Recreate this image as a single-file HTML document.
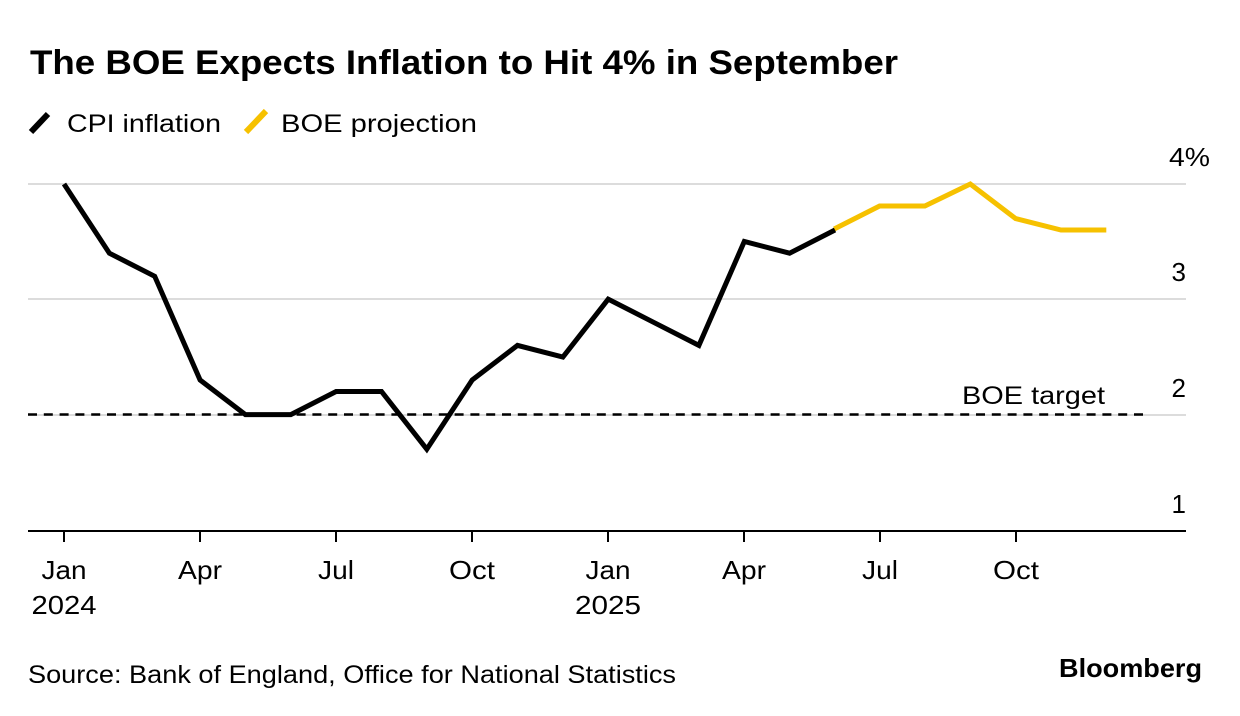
<!DOCTYPE html>
<html>
<head>
<meta charset="utf-8">
<style>
  html, body { margin:0; padding:0; background:#ffffff; }
  body { width:1240px; height:716px; overflow:hidden; }
  svg { display:block; }
  text { font-family: "Liberation Sans", Arial, sans-serif; fill:#000; }
</style>
</head>
<body>
<svg width="1240" height="716" viewBox="0 0 1240 716" xmlns="http://www.w3.org/2000/svg">
  <rect x="0" y="0" width="1240" height="716" fill="#ffffff"/>

  <!-- Title -->
  <text x="30" y="74" font-size="34" font-weight="bold" textLength="868" lengthAdjust="spacingAndGlyphs">The BOE Expects Inflation to Hit 4% in September</text>

  <!-- Legend -->
  <line x1="31" y1="132" x2="48" y2="114" stroke="#000" stroke-width="6" stroke-linecap="butt"/>
  <text x="67" y="132" font-size="25" textLength="154" lengthAdjust="spacingAndGlyphs">CPI inflation</text>
  <line x1="246" y1="132" x2="266" y2="111" stroke="#f6c100" stroke-width="6" stroke-linecap="butt"/>
  <text x="281" y="132" font-size="25" textLength="196" lengthAdjust="spacingAndGlyphs">BOE projection</text>

  <!-- Gridlines -->
  <line x1="28" y1="184" x2="1186" y2="184" stroke="#dcdcdc" stroke-width="2"/>
  <line x1="28" y1="299" x2="1186" y2="299" stroke="#dcdcdc" stroke-width="2"/>
  <line x1="28" y1="415" x2="1186" y2="415" stroke="#dcdcdc" stroke-width="2"/>

  <!-- Y labels -->
  <text x="1169" y="166" font-size="26" textLength="41" lengthAdjust="spacingAndGlyphs">4%</text>
  <text x="1186" y="281" font-size="26" text-anchor="end">3</text>
  <text x="1186" y="397" font-size="26" text-anchor="end">2</text>
  <text x="1186" y="513" font-size="26" text-anchor="end">1</text>

  <!-- BOE target dashed line -->
  <line x1="28" y1="414.5" x2="1143" y2="414.5" stroke="#000" stroke-width="2.5" stroke-dasharray="9,6.8"/>
  <text x="962" y="404" font-size="25" textLength="143" lengthAdjust="spacingAndGlyphs">BOE target</text>

  <!-- Axis -->
  <line x1="28" y1="531" x2="1186" y2="531" stroke="#000" stroke-width="2"/>
  <g stroke="#000" stroke-width="2">
    <line x1="64" y1="531" x2="64" y2="542"/>
    <line x1="200" y1="531" x2="200" y2="542"/>
    <line x1="336" y1="531" x2="336" y2="542"/>
    <line x1="472" y1="531" x2="472" y2="542"/>
    <line x1="608" y1="531" x2="608" y2="542"/>
    <line x1="744" y1="531" x2="744" y2="542"/>
    <line x1="880" y1="531" x2="880" y2="542"/>
    <line x1="1016" y1="531" x2="1016" y2="542"/>
  </g>

  <!-- X labels -->
  <g font-size="26" text-anchor="middle">
    <text x="64" y="579" textLength="45" lengthAdjust="spacingAndGlyphs">Jan</text>
    <text x="64" y="614" textLength="65" lengthAdjust="spacingAndGlyphs">2024</text>
    <text x="200" y="579" textLength="44" lengthAdjust="spacingAndGlyphs">Apr</text>
    <text x="336" y="579" textLength="36" lengthAdjust="spacingAndGlyphs">Jul</text>
    <text x="472" y="579" textLength="46" lengthAdjust="spacingAndGlyphs">Oct</text>
    <text x="608" y="579" textLength="45" lengthAdjust="spacingAndGlyphs">Jan</text>
    <text x="608" y="614" textLength="66" lengthAdjust="spacingAndGlyphs">2025</text>
    <text x="744" y="579" textLength="44" lengthAdjust="spacingAndGlyphs">Apr</text>
    <text x="880" y="579" textLength="36" lengthAdjust="spacingAndGlyphs">Jul</text>
    <text x="1016" y="579" textLength="46" lengthAdjust="spacingAndGlyphs">Oct</text>
  </g>

  <!-- BOE projection (yellow) -->
  <polyline fill="none" stroke="#f6c100" stroke-width="5" stroke-linejoin="miter" stroke-linecap="butt"
    points="834.2,229 879.6,206 924.9,206 970.3,184 1015.6,218.6 1061,230 1106.3,230"/>

  <!-- CPI inflation (black) -->
  <polyline fill="none" stroke="#000" stroke-width="5" stroke-linejoin="miter" stroke-linecap="butt"
    points="64,184 109.4,253.2 154.7,276.3 200.1,380 245.4,414.6 290.8,414.6 336.1,391.5 381.5,391.5 426.8,449.2 472.2,380 517.5,345.4 562.9,357 608.2,299.2 653.6,322.3 698.9,345.4 744.3,241.5 789.6,253.2 835,230"/>

  <!-- Source -->
  <text x="28" y="683" font-size="25" textLength="648" lengthAdjust="spacingAndGlyphs">Source: Bank of England, Office for National Statistics</text>

  <!-- Bloomberg -->
  <text x="1059" y="677" font-size="26" font-weight="bold" textLength="143" lengthAdjust="spacingAndGlyphs">Bloomberg</text>
</svg>
</body>
</html>
